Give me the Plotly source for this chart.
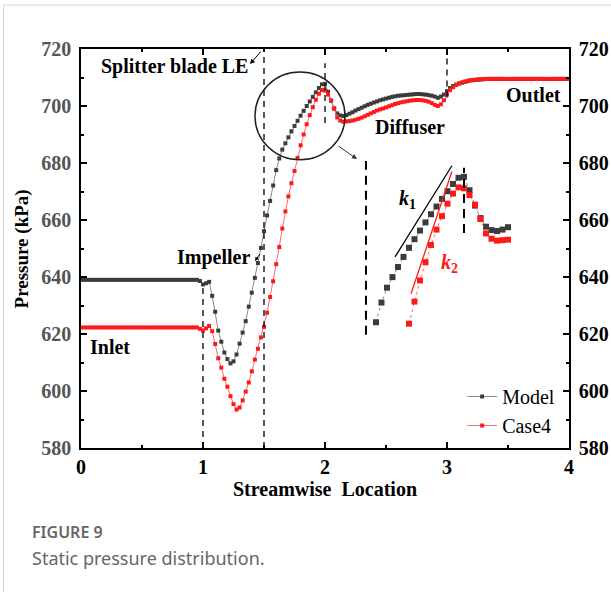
import numpy as np
import plotly.graph_objects as go

# Streamwise sampling locations (0 = inlet, 4 = outlet), step 0.025
location = np.round(np.arange(0, 4.0001, 0.025), 3)

# Static pressure along the passage, kPa
model_kpa = [
    639.0, 639.0, 639.0, 639.0, 639.0, 639.0, 639.0, 639.0, 639.0, 639.0,
    639.0, 639.0, 639.0, 639.0, 639.0, 639.0, 639.0, 639.0, 639.0, 639.0,
    639.0, 639.0, 639.0, 639.0, 639.0, 639.0, 639.0, 639.0, 639.0, 639.0,
    639.0, 639.0, 639.0, 639.0, 639.0, 639.0, 639.0, 639.0, 639.0, 638.6,
    637.4, 637.8, 638.3, 633.4, 627.8, 621.2, 617.3, 613.5, 611.2, 609.7,
    610.4, 612.8, 616.6, 620.5, 624.5, 629.6, 634.5, 639.7, 644.9, 650.2,
    656.1, 661.6, 666.7, 672.1, 677.5, 681.6, 684.7, 686.9, 689.0, 691.1,
    693.0, 694.8, 696.6, 698.3, 700.0, 701.6, 703.2, 704.8, 706.3, 707.6,
    707.8, 705.0, 701.8, 699.2, 697.4, 696.7, 696.5, 696.8, 697.3, 697.8,
    698.4, 698.9, 699.4, 699.9, 700.4, 700.8, 701.2, 701.6, 702.0, 702.3,
    702.6, 702.9, 703.2, 703.4, 703.6, 703.7, 703.8, 703.9, 704.0, 704.1,
    704.2, 704.2, 704.1, 704.0, 703.8, 703.6, 703.3, 702.9, 703.3, 704.0,
    705.2, 706.3, 707.0, 707.5, 707.9, 708.2, 708.5, 708.8, 709.0, 709.1,
    709.2, 709.3, 709.4, 709.5, 709.5, 709.5, 709.5, 709.5, 709.5, 709.5,
    709.5, 709.5, 709.5, 709.5, 709.5, 709.5, 709.5, 709.5, 709.5, 709.5,
    709.5, 709.5, 709.5, 709.5, 709.5, 709.5, 709.5, 709.5, 709.5, 709.5,
    709.5,
]
case4_kpa = [
    622.3, 622.3, 622.3, 622.3, 622.3, 622.3, 622.3, 622.3, 622.3, 622.3,
    622.3, 622.3, 622.3, 622.3, 622.3, 622.3, 622.3, 622.3, 622.3, 622.3,
    622.3, 622.3, 622.3, 622.3, 622.3, 622.3, 622.3, 622.3, 622.3, 622.3,
    622.3, 622.3, 622.3, 622.3, 622.3, 622.3, 622.3, 622.3, 622.3, 621.8,
    621.2, 622.0, 622.8, 621.0, 616.5, 611.5, 608.2, 604.3, 601.5, 598.2,
    595.4, 593.5, 594.2, 596.7, 599.8, 603.0, 606.9, 611.0, 614.8, 618.8,
    622.5, 627.5, 633.0, 638.5, 644.5, 650.5, 657.0, 663.0, 668.3, 672.9,
    677.2, 681.8, 686.2, 690.0, 693.6, 696.8, 699.6, 702.2, 704.3, 705.6,
    705.4, 704.0, 702.0, 699.0, 696.0, 694.9, 694.5, 694.6, 694.7, 694.9,
    695.2, 695.5, 695.9, 696.4, 696.9, 697.4, 697.9, 698.4, 698.8, 699.1,
    699.5, 699.9, 700.3, 700.7, 701.0, 701.3, 701.5, 701.7, 701.9, 702.0,
    702.1, 702.1, 702.0, 701.8, 701.5, 701.0, 700.4, 700.0, 700.6, 702.0,
    704.0, 705.6, 706.6, 707.4, 707.9, 708.3, 708.6, 708.9, 709.1, 709.2,
    709.3, 709.4, 709.4, 709.5, 709.5, 709.5, 709.5, 709.5, 709.5, 709.5,
    709.5, 709.5, 709.5, 709.5, 709.5, 709.5, 709.5, 709.5, 709.5, 709.5,
    709.5, 709.5, 709.5, 709.5, 709.5, 709.5, 709.5, 709.5, 709.5, 709.5,
    709.5,
]

series_names = ["Model", "Case4"]
marker_colors = ["#3c3c3c", "#ff1a1a"]
line_colors = ["#8a8a8a", "#ff6a6a"]

y_ticks = [580, 600, 620, 640, 660, 680, 700, 720]
x_ticks = [0, 1, 2, 3, 4]

# magnified view window (inset axes)
inset_x_range = [1.5273, 2.2545]
inset_y_range = [673.8, 711.3]

SERIF = "Liberation Serif"
SANS = "Noto Sans"

fig = go.Figure()

for name, vals, mc, lc in zip(series_names, [model_kpa, case4_kpa], marker_colors, line_colors):
    fig.add_trace(go.Scatter(
        x=location, y=vals, name=name, mode="lines+markers",
        line=dict(color=lc, width=1),
        marker=dict(symbol="square", size=4, color=mc, line=dict(width=0)),
    ))

# inset: same data, zoomed on the splitter/peak region
for vals, mc, lc in zip([model_kpa, case4_kpa], marker_colors, line_colors):
    v = np.array(vals)
    sel = (location >= 1.55) & (location <= 2.2) & (v >= inset_y_range[0])
    fig.add_trace(go.Scatter(
        x=location[sel], y=v[sel], mode="lines+markers", showlegend=False,
        xaxis="x2", yaxis="y2",
        line=dict(color=lc, width=1, dash="dot"),
        marker=dict(symbol="square", size=6, color=mc, line=dict(width=0)),
    ))

# carrier for the right-hand pressure axis
fig.add_trace(go.Scatter(x=[None], y=[None], yaxis="y3", showlegend=False, hoverinfo="skip"))

axis_line = dict(showline=True, linecolor="black", linewidth=1.5, ticks="inside",
                 ticklen=6, tickwidth=1.5, tickcolor="black", showgrid=False, zeroline=False,
                 automargin=False)

fig.update_layout(
    width=611, height=592,
    margin=dict(l=81, r=42, t=49, b=144, autoexpand=False),
    paper_bgcolor="white", plot_bgcolor="white",
    xaxis=dict(range=[0, 4], tickvals=x_ticks, mirror="ticks",
               tickfont=dict(family=SERIF, size=20, color="black", weight="bold"),
               minor=dict(dtick=0.5, ticks="inside", ticklen=3, tickwidth=1.5, tickcolor="black"),
               ticklabelstandoff=0, **axis_line),
    yaxis=dict(range=[580, 720], tickvals=y_ticks,
               tickfont=dict(family=SERIF, size=20, color="#555555", weight="bold"),
               minor=dict(dtick=10, ticks="inside", ticklen=3, tickwidth=1.5, tickcolor="black"),
               ticklabelstandoff=4, **axis_line),
    yaxis3=dict(range=[580, 720], tickvals=y_ticks, overlaying="y", side="right", anchor="x",
                tickfont=dict(family=SERIF, size=20, color="black", weight="bold"),
                minor=dict(dtick=10, ticks="inside", ticklen=3, tickwidth=1.5, tickcolor="black"),
                ticklabelstandoff=4, **axis_line),
    xaxis2=dict(domain=[0.5717, 0.8996], range=inset_x_range, anchor="y2", visible=False),
    yaxis2=dict(domain=[0.2707, 0.7218], range=inset_y_range, anchor="x2", visible=False),
    legend=dict(x=0.781, y=0.178, xanchor="left", yanchor="top", bgcolor="rgba(0,0,0,0)",
                font=dict(family=SERIF, size=20, color="black"), tracegroupgap=0,
                itemwidth=30),
    showlegend=True,
)

dash_main = dict(color="black", width=1.3, dash="6px,5px")
for x, y0, y1 in [(1.0, 580, 637.5), (1.5, 580, 720), (2.0, 694, 715), (3.0, 703, 719)]:
    fig.add_shape(type="line", xref="x", yref="y", x0=x, x1=x, y0=y0, y1=y1, line=dash_main)

dash_inset = dict(color="black", width=2, dash="9px,6px")
for x, y0, y1 in [(1.5545, 674.9, 711.1), (2.0, 696.1, 709.7)]:
    fig.add_shape(type="line", xref="x2", yref="y2", x0=x, x1=x, y0=y0, y1=y1, line=dash_inset)

# slope guides in the inset
fig.add_shape(type="line", xref="x2", yref="y2", x0=1.6864, y0=691.1, x1=1.945, y1=710.1,
              line=dict(color="black", width=1.3))
fig.add_shape(type="line", xref="x2", yref="y2", x0=1.759, y0=683.4, x1=1.945, y1=708.9,
              line=dict(color="#ff1a1a", width=1.3))

# circle marking the magnified region
fig.add_shape(type="circle", xref="x", yref="y", x0=1.426, x1=2.164, y0=681.1, y1=711.9,
              line=dict(color="#222222", width=1.5))

# card frame
fig.add_shape(type="line", xref="paper", yref="paper", x0=-0.1588, x1=-0.1588, y0=1.11, y1=-0.37,
              line=dict(color="#d5d5d5", width=1))
fig.add_shape(type="line", xref="paper", yref="paper", x0=-0.1588, x1=1.1, y0=1.11, y1=1.11,
              line=dict(color="#d5d5d5", width=1))

bold = dict(family=SERIF, size=20, color="black", weight="bold")
labels = [
    ("Splitter blade LE", 0.770, 713.7),
    ("Impeller", 1.090, 646.7),
    ("Inlet", 0.238, 615.4),
    ("Diffuser", 2.697, 692.6),
    ("Outlet", 3.713, 703.9),
]
for text, x, y in labels:
    fig.add_annotation(text=text, x=x, y=y, xref="x", yref="y", showarrow=False, font=bold,
                       xanchor="center", yanchor="middle")

fig.add_annotation(text="<i>k</i><sub>1</sub>", x=1.745, y=703.0, xref="x2", yref="y2",
                   showarrow=False, font=dict(family=SERIF, size=20, color="black", weight="bold"))
fig.add_annotation(text="<i>k</i><sub>2</sub>", x=1.936, y=689.7, xref="x2", yref="y2",
                   showarrow=False, font=dict(family=SERIF, size=20, color="#ff1a1a", weight="bold"))

# pointer arrows
fig.add_annotation(x=1.385, y=714.7, ax=1.484, ay=719.6, xref="x", yref="y", axref="x", ayref="y",
                   text="", showarrow=True, arrowhead=2, arrowsize=1, arrowwidth=1, arrowcolor="black")
fig.add_annotation(x=1.426, y=645.6, ax=1.475, ay=648.6, xref="x", yref="y", axref="x", ayref="y",
                   text="", showarrow=True, arrowhead=2, arrowsize=0.8, arrowwidth=1, arrowcolor="black")
fig.add_annotation(x=2.262, y=681.4, ax=2.098, ay=686.3, xref="x", yref="y", axref="x", ayref="y",
                   text="", showarrow=True, arrowhead=2, arrowsize=1, arrowwidth=1, arrowcolor="#333333")

# axis titles
fig.add_annotation(text="Pressure (kPa)", x=-0.121, y=0.5, xref="paper", yref="paper",
                   xanchor="center", yanchor="middle",
                   textangle=-90, showarrow=False, font=dict(family=SERIF, size=19, color="black", weight="bold"))
fig.add_annotation(text="Streamwise  Location", x=0.5, y=-0.102, xref="paper", yref="paper",
                   xanchor="center", yanchor="middle",
                   showarrow=False, font=dict(family=SERIF, size=20, color="black", weight="bold"))

# caption
fig.add_annotation(text="FIGURE 9", x=-0.105, y=-0.2105, xref="paper", yref="paper",
                   xanchor="left", yanchor="middle", showarrow=False,
                   font=dict(family=SANS, size=16, color="#666666", weight=600))
fig.add_annotation(text="Static pressure distribution.", x=-0.105, y=-0.2757, xref="paper", yref="paper",
                   xanchor="left", yanchor="middle", showarrow=False,
                   font=dict(family=SANS, size=18, color="#666666"))

fig.write_html("out.html")
